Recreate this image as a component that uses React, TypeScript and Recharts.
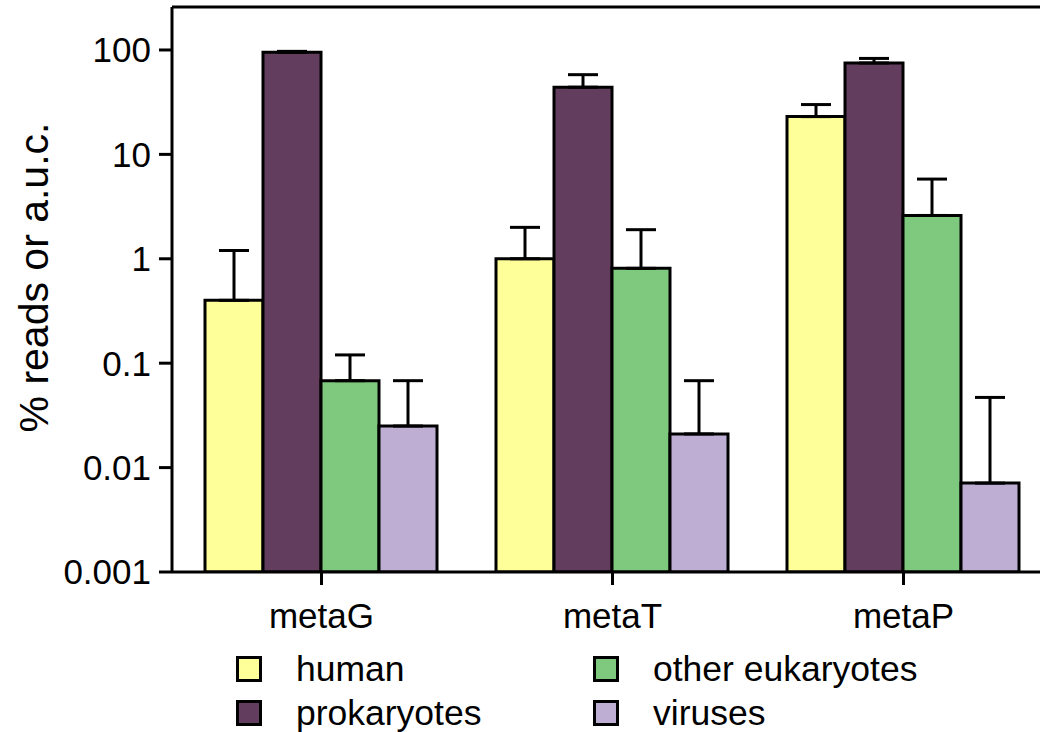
import React from 'react';
import { BarChart, Bar, XAxis, YAxis, ErrorBar, Legend, ReferenceLine, Label } from 'recharts';

// values (percent)
const categories = ['metaG', 'metaT', 'metaP'];
const human = [0.4, 1.0, 23];
const prokaryotes = [95, 44, 75];
const otherEuk = [0.068, 0.81, 2.6];
const viruses = [0.025, 0.021, 0.0071];

// top of each error bar
const humanTop = [1.2, 2.0, 30];
const prokaryotesTop = [97, 58, 83];
const otherEukTop = [0.12, 1.9, 5.8];
const virusesTop = [0.068, 0.068, 0.047];

const yTicks = [0.001, 0.01, 0.1, 1, 10, 100];
const yMax = 258;

const series = [
  { key: 'human', name: 'human', color: '#ffff99', values: human, tops: humanTop },
  { key: 'prok', name: 'prokaryotes', color: '#623d5d', values: prokaryotes, tops: prokaryotesTop },
  { key: 'euk', name: 'other eukaryotes', color: '#7fc97f', values: otherEuk, tops: otherEukTop },
  { key: 'vir', name: 'viruses', color: '#beaed4', values: viruses, tops: virusesTop },
];

const data = categories.map((cat, i) => {
  const row: any = { cat };
  series.forEach(s => {
    row[s.key] = s.values[i];
    row[s.key + 'Err'] = [0, s.tops[i] - s.values[i]];
  });
  return row;
});

const FONT = '"Liberation Sans", Arial, Helvetica, sans-serif';

const legendOrder = [series[0], series[2], series[1], series[3]];

const renderLegend = () => (
  <div style={{ display: 'grid', gridTemplateColumns: '357px 357px', rowGap: 14, fontFamily: FONT, fontSize: 35.5, color: '#000' }}>
    {legendOrder.map(s => (
      <div key={s.key} style={{ display: 'flex', alignItems: 'center', height: 30 }}>
        <span style={{ display: 'inline-block', width: 26, height: 26, boxSizing: 'border-box', border: '3px solid #000', background: s.color, marginRight: 34 }} />
        <span>{s.name}</span>
      </div>
    ))}
  </div>
);

export default function App() {
  return (
    <div style={{ position: 'fixed', left: 0, top: 0, width: 1040, height: 732, overflow: 'hidden', background: '#fff' }}>
      <BarChart
        width={1080}
        height={732}
        data={data}
        margin={{ top: 7, right: 27, bottom: 100, left: 0 }}
        barCategoryGap={29}
        barGap={0}
        style={{ fontFamily: FONT }}
      >
        <XAxis
          dataKey="cat"
          height={60}
          padding={{ left: 4, right: 4 }}
          tickSize={13}
          tickMargin={18}
          stroke="#000"
          strokeWidth={3}
          tick={{ fill: '#000', fontSize: 35 }}
        />
        <YAxis
          scale="log"
          domain={[0.001, yMax]}
          ticks={yTicks}
          allowDataOverflow
          width={172}
          tickSize={13}
          tickMargin={8}
          stroke="#000"
          strokeWidth={3}
          tick={{ fill: '#000', fontSize: 35 }}
        >
          <Label
            content={(props: any) => {
              const vb = props.viewBox || { x: 0, y: 7, width: 172, height: 565 };
              const cx = vb.x + 34;
              const cy = vb.y + vb.height / 2 - 12;
              return (
                <text x={cx} y={cy} transform={`rotate(-90 ${cx} ${cy})`} textAnchor="middle" dominantBaseline="central" fontSize={41} fill="#000" fontFamily={FONT}>
                  % reads or a.u.c.
                </text>
              );
            }}
          />
        </YAxis>
        <ReferenceLine y={yMax} stroke="#000" strokeWidth={3} ifOverflow="visible" />
        {series.map(s => (
          <Bar key={s.key} dataKey={s.key} name={s.name} fill={s.color} stroke="#000" strokeWidth={3} isAnimationActive={false}>
            <ErrorBar dataKey={s.key + 'Err'} direction="y" width={15} stroke="#000" strokeWidth={3} />
          </Bar>
        ))}
        <Legend
          layout="horizontal"
          verticalAlign="middle"
          align="center"
          content={renderLegend}
          wrapperStyle={{ position: 'absolute', left: 236, top: 654, width: 760 }}
        />
      </BarChart>
    </div>
  );
}
